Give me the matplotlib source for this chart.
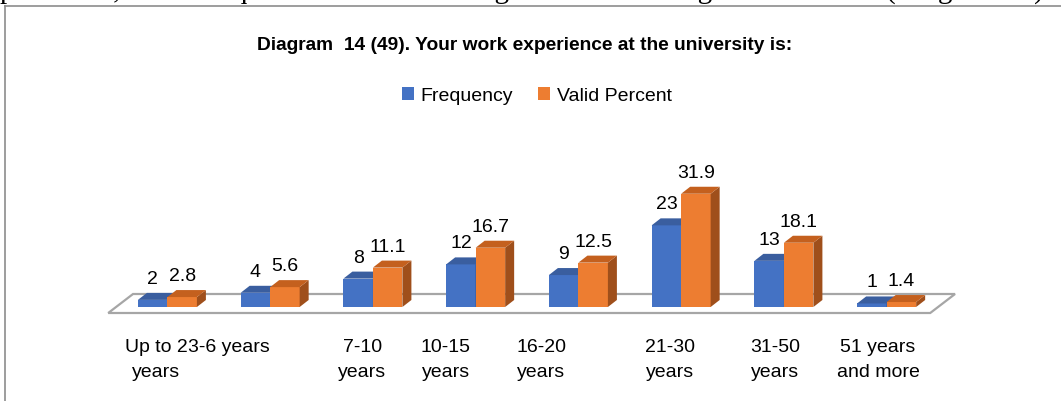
import matplotlib
matplotlib.use('Agg')
import matplotlib.pyplot as plt
from matplotlib.patches import Polygon
from matplotlib.lines import Line2D
import numpy as np

# ---------------- data ----------------
categories = ["Up to 2\nyears", "3-6 years", "7-10\nyears", "10-15\nyears",
              "16-20\nyears", "21-30\nyears", "31-50\nyears", "51 years\nand more"]
frequency = [2, 4, 8, 12, 9, 23, 13, 1]
valid_percent = [2.8, 5.6, 11.1, 16.7, 12.5, 31.9, 18.1, 1.4]
series_names = ["Frequency", "Valid Percent"]
title = "Diagram  14 (49). Your work experience at the university is:"
doc_text = "personnel, which is quite normal for the higher education organization "
doc_tail = "(Diagram 14)."

# ---------------- style ----------------
plt.rcParams['font.family'] = ['Liberation Sans', 'DejaVu Sans']
BLUE, BLUE_TOP, BLUE_SIDE = '#4472C4', '#3A5E9F', '#2E4D87'
ORANGE, ORANGE_TOP, ORANGE_SIDE = '#ED7D31', '#C4601E', '#9F4F1B'
FLOOR_EDGE = '#A6A6A6'
# label horizontal nudges (pixels) as laid out in the original
LABEL_DX = [-11, -41, -10.5, -30, -37, -11, -8.5, -8.6]

W, H = 1061, 401
fig = plt.figure(figsize=(W / 100, H / 100), dpi=100)
ax = fig.add_axes([0, 0, 1, 1])
X0, SX = 167.4, 102.75     # pixel of first group centre, pixels per group
Y0, SY = 307.0, 3.55       # pixel of baseline, pixels per unit
ax.set_xlim(-X0 / SX, (W - X0) / SX)
ax.set_ylim((Y0 - H) / SY, Y0 / SY)
ax.axis('off')


def pxx(d):
    return d / SX


def pxy(d):
    return d / SY


n = len(categories)
x = np.arange(n)
bw = pxx(29.5)
ddx, ddy = pxx(9), pxy(7)

# floor (oblique)
fl_front_dx, fl_front_dy = pxx(-7.8), pxy(-6)
fl_back_dx, fl_back_dy = pxx(17), pxy(13)
x_lo, x_hi = -0.5, n - 0.5
floor = Polygon([(x_lo + fl_front_dx, fl_front_dy), (x_hi + fl_front_dx, fl_front_dy),
                 (x_hi + fl_back_dx, fl_back_dy), (x_lo + fl_back_dx, fl_back_dy)],
                closed=True, facecolor='white', edgecolor=FLOOR_EDGE, linewidth=1.6, zorder=1)
ax.add_patch(floor)


def draw_series(xs_left, vals, front, top, side, z, fmt):
    bars = ax.bar(xs_left, vals, bw, align='edge', color=front, linewidth=0, zorder=z)
    for xl, v in zip(xs_left, vals):
        xr = xl + bw
        ax.add_patch(Polygon([(xr, 0), (xr + ddx, ddy), (xr + ddx, v + ddy), (xr, v)],
                             closed=True, facecolor=side, linewidth=0, zorder=z + 0.1))
        ax.add_patch(Polygon([(xl, v), (xr, v), (xr + ddx, v + ddy), (xl + ddx, v + ddy)],
                             closed=True, facecolor=top, linewidth=0, zorder=z + 0.1))
        ax.text(xl + bw / 2, v + pxy(16), fmt(v), ha='center', va='baseline',
                fontsize=14, color='black', zorder=10)
    return bars


b1 = draw_series(x - bw, frequency, BLUE, BLUE_TOP, BLUE_SIDE, 2, lambda v: f"{v:d}")
b2 = draw_series(x, valid_percent, ORANGE, ORANGE_TOP, ORANGE_SIDE, 3, lambda v: f"{v:.1f}")

# category labels
line_base = [352, 377]
for i, lab in enumerate(categories):
    for j, line in enumerate(lab.split('\n')):
        ax.text(x[i] + pxx(LABEL_DX[i]), (Y0 - line_base[j]) / SY, line,
                ha='center', va='baseline', fontsize=14, color='black')

# title
fig.text(525 / W, 1 - 45 / H, title, ha='center', va='center',
         fontsize=13.8, fontweight='bold', color='black')

# legend
fig.legend([b1, b2], series_names, loc='center', bbox_to_anchor=(537 / W, 1 - 96 / H),
           ncol=2, frameon=False, fontsize=14, handlelength=0.62, handleheight=0.62,
           handletextpad=0.35, columnspacing=1.3, borderpad=0)

# border of the chart box
fig.add_artist(Line2D([5 / W, 5 / W], [0, 1 - 6 / H], color='#8C8C8C', linewidth=1.2,
                      transform=fig.transFigure))
fig.add_artist(Line2D([5 / W, 1], [1 - 6 / H, 1 - 6 / H], color='#8C8C8C', linewidth=1.2,
                      transform=fig.transFigure))

# clipped document text above the chart (only descenders visible)
fig.text(0, 1 + 2.5 / H, doc_text, ha='left', va='baseline', fontsize=21,
         family='Liberation Serif', color='black')
fig.text(886 / W, 1 + 2.5 / H, doc_tail, ha='left', va='baseline', fontsize=21,
         family='Liberation Serif', color='black')

fig.savefig('out.png', dpi=100)
